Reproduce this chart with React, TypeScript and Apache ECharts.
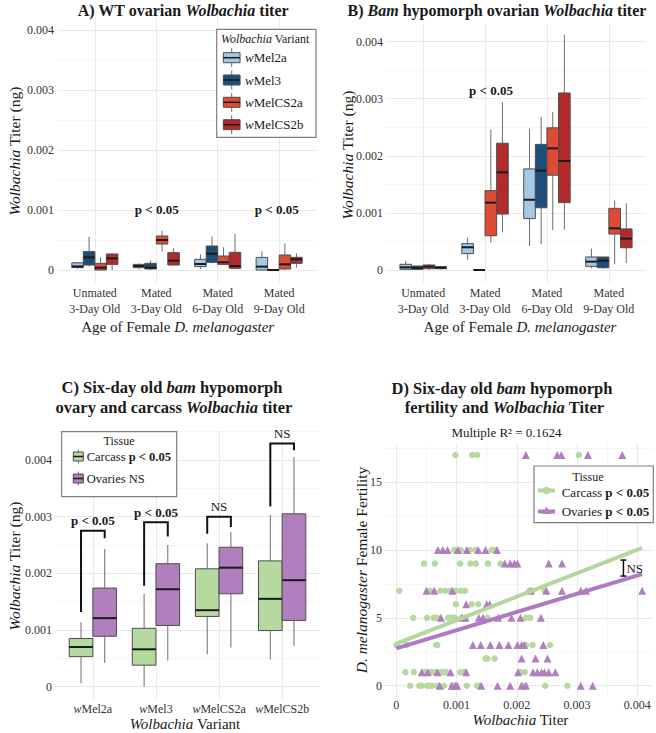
import React, { useEffect, useRef } from "react";
import * as echarts from "echarts";

// ---------- data ----------
const ageGroups = ["Unmated\n3-Day Old", "Mated\n3-Day Old", "Mated\n6-Day Old", "Mated\n9-Day Old"];
const variants = ["wMel2a", "wMel3", "wMelCS2a", "wMelCS2b"];
const variantColors = ["#a3c9e6", "#1d4e79", "#df4c36", "#b22a2c"];

// box stats per age group: [lower whisker, Q1, median, Q3, upper whisker] in ng
const wtMel2a = [
  [0.00002, 0.00004, 0.00006, 0.00012, 0.00013],
  [0.00001, 0.00004, 0.000067, 0.000094, 0.00011],
  [0.000017, 0.000056, 0.0001, 0.000178, 0.00026],
  [0, 0, 0.000056, 0.00021, 0.00031],
];
const wtMel3 = [
  [0.000056, 0.000083, 0.00021, 0.000306, 0.000556],
  [0, 0.000017, 0.000039, 0.000111, 0.000156],
  [0.000111, 0.000128, 0.000272, 0.0004, 0.000556],
  [0, 0, 0, 0, 0],
];
const wtMelCS2a = [
  [0, 0, 0.000039, 0.000111, 0.000211],
  [0.000306, 0.000433, 0.0005, 0.000567, 0.000656],
  [0.000083, 0.000094, 0.000128, 0.000233, 0.000378],
  [0, 0.000017, 0.000094, 0.00025, 0.000444],
];
const wtMelCS2b = [
  [0, 0.000094, 0.000194, 0.000267, 0.000278],
  [0.000072, 0.000083, 0.000156, 0.000289, 0.000361],
  [0.000017, 0.000028, 0.000067, 0.000294, 0.0006],
  [0.000039, 0.000111, 0.000178, 0.000211, 0.000278],
];

const bamMel2a = [
  [0, 0.000012, 0.000047, 0.0001, 0.000158],
  [0.000175, 0.000287, 0.000398, 0.000462, 0.000567],
  [0.00042, 0.0009, 0.00123, 0.00177, 0.00247],
  [0.00003, 0.000064, 0.000146, 0.000228, 0.000374],
];
const bamMel3 = [
  [0, 0.000012, 0.000035, 0.00007, 0.00008],
  [0, 0, 0, 0, 0],
  [0.00045, 0.00109, 0.00174, 0.0022, 0.00268],
  [0.000023, 0.00004, 0.000164, 0.000228, 0.000228],
];
const bamMelCS2a = [
  [0, 0.000023, 0.000058, 0.000088, 0.000105],
  [0.00048, 0.0006, 0.00118, 0.00139, 0.00246],
  [0.0007, 0.00166, 0.00213, 0.00249, 0.00277],
  [0.0001, 0.00063, 0.00073, 0.00108, 0.00122],
];
const bamMelCS2b = [
  [0.00001, 0.000023, 0.000041, 0.000058, 0.00006],
  [0.00066, 0.00098, 0.00171, 0.00222, 0.00294],
  [0.00071, 0.00118, 0.00191, 0.0031, 0.00412],
  [0.00012, 0.00039, 0.00055, 0.00072, 0.00117],
];

// six-day bam hypomorph tissues, per variant
const tissueColors = ["#b6d9a0", "#b07fbd"];
const carcassTiter = [
  [0.00006, 0.00053, 0.0007, 0.00085, 0.00114],
  [0, 0.00038, 0.00066, 0.00103, 0.00164],
  [0.00057, 0.00124, 0.00135, 0.00208, 0.00253],
  [0.00048, 0.00099, 0.00155, 0.00222, 0.00303],
];
const ovaryTiter = [
  [0.00042, 0.00089, 0.00121, 0.00174, 0.00243],
  [0.00046, 0.00108, 0.00172, 0.00217, 0.0025],
  [0.00069, 0.00164, 0.0021, 0.00246, 0.00273],
  [0.00072, 0.00117, 0.00188, 0.00305, 0.00405],
];
const bracketTop = [0.00275, 0.0029, 0.003, 0.00429];
const bracketLeftEnd = [0.00132, 0.00178, 0.0027, 0.00318];
const bracketRightEnd = [0.00262, 0.00265, 0.00282, 0.00417];
const bracketLabels = ["p < 0.05", "p < 0.05", "NS", "NS"];

// fertility (offspring count) vs titer, grouped by fertility value
const carcassRows: [number, number[]][] = [
  [17, [0.00098, 0.00126, 0.00134, 0.00303]],
  [10, [0.00096, 0.00107, 0.00122, 0.00131, 0.00158, 0.00163]],
  [9, [0.00046, 0.00064, 0.00106, 0.00123, 0.00132, 0.00152, 0.00173]],
  [7, [0.00005, 0.00056, 0.00073, 0.00081, 0.0009, 0.00099, 0.00107, 0.00114, 0.00221, 0.00226, 0.00246]],
  [6, [0.00099, 0.00125, 0.00136]],
  [5, [0.00028, 0.00051, 0.00062, 0.00068, 0.00086, 0.00091, 0.00097, 0.00108, 0.00151, 0.00215, 0.00222]],
  [3, [0.0, 0.00017, 0.00066, 0.00068, 0.00215, 0.00226, 0.00255]],
  [2, [0.00148, 0.00151, 0.00163]],
  [1, [0.00015, 0.00029, 0.00047, 0.00057, 0.00064, 0.00074, 0.00079, 0.00083, 0.00106, 0.00113, 0.00206, 0.00213]],
  [0, [0.00023, 0.00038, 0.00042, 0.00051, 0.00055, 0.00059, 0.00068, 0.00079, 0.00093, 0.00097, 0.00117, 0.00134, 0.00137, 0.00209, 0.00214, 0.00247, 0.00284]],
];
const ovaryRows: [number, number[]][] = [
  [17, [0.00215, 0.00267, 0.00274, 0.00318, 0.00375]],
  [10, [0.00069, 0.00077, 0.00085, 0.00102, 0.00117, 0.00136, 0.00148, 0.00167]],
  [9, [0.0018, 0.00189, 0.00196, 0.00201, 0.00253, 0.00275]],
  [7, [0.0005, 0.00063, 0.00093, 0.00223, 0.00249, 0.00275, 0.00306, 0.00315, 0.00408]],
  [6, [0.00116, 0.0015, 0.00155]],
  [5, [0.00074, 0.00109, 0.00115, 0.00137, 0.00144, 0.00169, 0.00191, 0.00206, 0.0024]],
  [3, [0.00127, 0.0014, 0.00156, 0.00171, 0.00186, 0.00201, 0.00208, 0.00212, 0.00244]],
  [2, [0.00208, 0.00231, 0.00251]],
  [1, [0.00042, 0.00052, 0.00068, 0.0009, 0.00116, 0.00202, 0.00227, 0.00234, 0.00241, 0.00246, 0.00253, 0.00264]],
  [0, [0.00072, 0.00092, 0.00098, 0.00101, 0.00141, 0.00168, 0.00189, 0.00208, 0.00215, 0.00306, 0.00326]],
];
const carcassFit = [[0, 3.1], [0.00408, 10.15]];
const ovaryFit = [[0, 2.75], [0.00408, 8.22]];
const fitGap = [0.00377, 8.08, 9.26];

// ---------- styling ----------
const FONT = "Liberation Serif, Times New Roman, serif";
const INK = "#1a1a1a";
const TICK = "#333333";
const GRID_MAJOR = "#e9e9e9";
const GRID_MINOR = "#f5f5f5";
const BOX_EDGE = "#4d4d4d";
const WHISKER = "#6e6e6e";

type Opt = { size?: number; bold?: boolean; align?: string; rotation?: number; color?: string; z?: number };
function txt(x: number, y: number, text: string, o: Opt = {}) {
  const size = o.size ?? 12;
  const weight = o.bold ? "bold" : "normal";
  const fill = o.color ?? INK;
  const base = { fontFamily: FONT, fontSize: size, fill };
  return {
    type: "text",
    x,
    y,
    rotation: o.rotation ?? 0,
    z: o.z ?? 50,
    silent: true,
    style: {
      text,
      ...base,
      fontWeight: weight,
      align: o.align ?? "center",
      textAlign: o.align ?? "center",
      verticalAlign: "middle",
      textVerticalAlign: "middle",
      rich: {
        i: { ...base, fontWeight: weight, fontStyle: "italic" },
        b: { ...base, fontWeight: "bold" },
        bi: { ...base, fontWeight: "bold", fontStyle: "italic" },
      },
    },
  };
}

function boxKey(cx: number, cy: number, w: number, h: number, stub: number, color: string) {
  return [
    { type: "line", z: 60, shape: { x1: cx, y1: cy - h / 2 - stub, x2: cx, y2: cy + h / 2 + stub }, style: { stroke: WHISKER, lineWidth: 1 } },
    { type: "rect", z: 61, shape: { x: cx - w / 2, y: cy - h / 2, width: w, height: h }, style: { fill: color, stroke: BOX_EDGE, lineWidth: 1 } },
    { type: "line", z: 62, shape: { x1: cx - w / 2, y1: cy, x2: cx + w / 2, y2: cy }, style: { stroke: INK, lineWidth: 1.5 } },
  ];
}

function titerLabel(v: number) {
  const k = v / 0.001;
  const r = Math.round(k);
  if (Math.abs(k - r) > 1e-6) return "";
  return r === 0 ? "0" : (r * 0.001).toFixed(3);
}

function valueAxis(gridIndex: number, min: number, max: number, step: number, major: boolean, label: any, position: string) {
  return {
    type: "value",
    gridIndex,
    position,
    min,
    max,
    minInterval: step,
    maxInterval: step,
    splitNumber: Math.max(1, Math.round((max - min) / step)),
    axisLine: { show: false },
    axisTick: { show: false },
    axisLabel: label ?? { show: false },
    splitLine: {
      show: true,
      showMinLine: false,
      showMaxLine: false,
      lineStyle: { color: major ? GRID_MAJOR : GRID_MINOR, width: 1 },
    },
  };
}

function boxSeries(name: string, data: number[][], color: string, idx: number, n: number, xAxisIndex: number, yAxisIndex: number) {
  return {
    type: "custom",
    name,
    xAxisIndex,
    yAxisIndex,
    data: data.map((d, i) => [i + 1, ...d]),
    encode: { x: 0, y: [1, 2, 3, 4, 5] },
    z: 5,
    renderItem: (_p: any, api: any) => {
      const xv = api.value(0);
      const lo = api.value(1), q1 = api.value(2), med = api.value(3), q3 = api.value(4), hi = api.value(5);
      const unit = api.size([1, 0])[0];
      const groupW = unit * 0.75;
      const w = groupW / n;
      const cx = api.coord([xv, med])[0] - groupW / 2 + w * (idx + 0.5);
      const py = (v: number) => api.coord([xv, v])[1];
      const top = py(q3);
      const bot = py(q1);
      return {
        type: "group",
        children: [
          { type: "line", shape: { x1: cx, y1: py(hi), x2: cx, y2: top }, style: { stroke: WHISKER, lineWidth: 1 } },
          { type: "line", shape: { x1: cx, y1: bot, x2: cx, y2: py(lo) }, style: { stroke: WHISKER, lineWidth: 1 } },
          { type: "rect", shape: { x: cx - w / 2, y: top, width: w, height: Math.max(bot - top, 0) }, style: { fill: color, stroke: BOX_EDGE, lineWidth: 1 } },
          { type: "line", shape: { x1: cx - w / 2, y1: py(med), x2: cx + w / 2, y2: py(med) }, style: { stroke: INK, lineWidth: 2 } },
        ],
      };
    },
  };
}

function categoryAxis(gridIndex: number, names: string[], margin: number, rich: boolean) {
  return {
    type: "value",
    gridIndex,
    position: "bottom",
    min: 0.4,
    max: 4.6,
    minInterval: 1,
    maxInterval: 1,
    splitNumber: 4,
    axisLine: { show: false },
    axisTick: { show: false },
    axisLabel: {
      margin,
      fontFamily: FONT,
      fontSize: 12,
      color: TICK,
      lineHeight: 16,
      formatter: (v: number) => {
        const i = Math.round(v);
        if (Math.abs(v - i) > 1e-6 || i < 1 || i > names.length) return "";
        return rich ? `{i|w}${names[i - 1].slice(1)}` : names[i - 1];
      },
      rich: { i: { fontFamily: FONT, fontSize: 12, color: TICK, fontStyle: "italic" } },
    },
    splitLine: { show: true, showMinLine: false, showMaxLine: false, lineStyle: { color: GRID_MAJOR, width: 1 } },
  };
}

function titerTicks(margin: number) {
  return { margin, fontFamily: FONT, fontSize: 12, color: TICK, formatter: titerLabel };
}

function buildOption() {
  const wtSets = [wtMel2a, wtMel3, wtMelCS2a, wtMelCS2b];
  const bamSets = [bamMel2a, bamMel3, bamMelCS2a, bamMelCS2b];

  const grid = [
    { left: 58, top: 17, width: 258, height: 265 },
    { left: 386, top: 24, width: 260, height: 258 },
    { left: 55, top: 431, width: 265, height: 268 },
    { left: 384, top: 443.5, width: 272, height: 253.7 },
  ];

  const xAxis = [
    categoryAxis(0, ageGroups, 3, false),
    categoryAxis(1, ageGroups, 3, false),
    categoryAxis(2, variants, 2, true),
    valueAxis(3, -0.000205, 0.004261, 0.0005, false, null, "top"),
    valueAxis(3, -0.000205, 0.004261, 0.001, true, {
      margin: 2, fontFamily: FONT, fontSize: 12, color: TICK, formatter: titerLabel,
    }, "bottom"),
  ];

  const yAxis = [
    valueAxis(0, -0.0002, 0.0042167, 0.0005, false, null, "right"),
    valueAxis(0, -0.0002, 0.0042167, 0.001, true, titerTicks(4), "left"),
    valueAxis(1, -0.00021, 0.004308, 0.0005, false, null, "right"),
    valueAxis(1, -0.00021, 0.004308, 0.001, true, titerTicks(3), "left"),
    valueAxis(2, -0.000217, 0.0045117, 0.0005, false, null, "right"),
    valueAxis(2, -0.000217, 0.0045117, 0.001, true, titerTicks(3), "left"),
    valueAxis(3, -0.847, 17.85, 2.5, false, null, "right"),
    valueAxis(3, -0.847, 17.85, 5, true, {
      margin: 2, fontFamily: FONT, fontSize: 12, color: TICK,
      formatter: (v: number) => (Math.abs(v / 5 - Math.round(v / 5)) < 1e-6 ? String(Math.round(v)) : ""),
    }, "left"),
  ];

  const series: any[] = [];
  variants.forEach((name, i) => series.push(boxSeries(name, wtSets[i], variantColors[i], i, 4, 0, 1)));
  variants.forEach((name, i) => series.push(boxSeries(name, bamSets[i], variantColors[i], i, 4, 1, 3)));
  series.push(boxSeries("Carcass", carcassTiter, tissueColors[0], 0, 2, 2, 5));
  series.push(boxSeries("Ovaries", ovaryTiter, tissueColors[1], 1, 2, 2, 5));

  // significance brackets between tissues
  series.push({
    type: "custom",
    xAxisIndex: 2,
    yAxisIndex: 5,
    z: 8,
    data: bracketTop.map((t, i) => [i + 1, t, bracketLeftEnd[i], bracketRightEnd[i]]),
    encode: { x: 0, y: [1, 2, 3] },
    renderItem: (p: any, api: any) => {
      const xv = api.value(0);
      const off = (api.size([1, 0])[0] * 0.75) / 4;
      const cx = api.coord([xv, 0])[0];
      const yT = api.coord([xv, api.value(1)])[1];
      const yL = api.coord([xv, api.value(2)])[1];
      const yR = api.coord([xv, api.value(3)])[1];
      return {
        type: "group",
        children: [
          {
            type: "polyline",
            shape: { points: [[cx - off, yL], [cx - off, yT], [cx + off, yT], [cx + off, yR]] },
            style: { stroke: "#111", lineWidth: 2, fill: "none" },
          },
          {
            type: "text",
            x: cx,
            y: yT - 10,
            style: {
              text: bracketLabels[p.dataIndex],
              fontFamily: FONT,
              fontSize: 13,
              fontWeight: bracketLabels[p.dataIndex] === "NS" ? "normal" : "bold",
              fill: INK,
              align: "center",
              textAlign: "center",
              verticalAlign: "middle",
              textVerticalAlign: "middle",
            },
          },
        ],
      };
    },
  });

  const toPoints = (rows: [number, number[]][]) =>
    rows.flatMap(([fert, titers]) => titers.map((t) => [t, fert]));

  series.push({
    type: "scatter",
    name: "Carcass",
    xAxisIndex: 4,
    yAxisIndex: 7,
    symbol: "circle",
    symbolSize: 6.5,
    itemStyle: { color: tissueColors[0], opacity: 1 },
    data: toPoints(carcassRows),
    z: 3,
  });
  series.push({
    type: "scatter",
    name: "Ovaries",
    xAxisIndex: 4,
    yAxisIndex: 7,
    symbol: "triangle",
    symbolSize: 8,
    itemStyle: { color: tissueColors[1], opacity: 1 },
    data: toPoints(ovaryRows),
    z: 3,
  });
  series.push({
    type: "line",
    xAxisIndex: 4,
    yAxisIndex: 7,
    data: carcassFit,
    symbol: "none",
    lineStyle: { color: "#b3d79c", width: 4 },
    z: 4,
    silent: true,
  });
  series.push({
    type: "line",
    xAxisIndex: 4,
    yAxisIndex: 7,
    data: ovaryFit,
    symbol: "none",
    lineStyle: { color: "#ad7bc1", width: 4 },
    z: 4,
    silent: true,
  });
  // gap between the two fitted lines
  series.push({
    type: "custom",
    xAxisIndex: 4,
    yAxisIndex: 7,
    z: 6,
    data: [fitGap],
    encode: { x: 0, y: [1, 2] },
    renderItem: (_p: any, api: any) => {
      const lo = api.coord([api.value(0), api.value(1)]);
      const hi = api.coord([api.value(0), api.value(2)]);
      const s = { stroke: "#111", lineWidth: 1.5 };
      return {
        type: "group",
        children: [
          { type: "line", shape: { x1: lo[0], y1: lo[1], x2: hi[0], y2: hi[1] }, style: s },
          { type: "line", shape: { x1: lo[0] - 3, y1: lo[1], x2: lo[0] + 3, y2: lo[1] }, style: s },
          { type: "line", shape: { x1: hi[0] - 3, y1: hi[1], x2: hi[0] + 3, y2: hi[1] }, style: s },
          {
            type: "text",
            x: lo[0] + 3,
            y: (lo[1] + hi[1]) / 2,
            style: {
              text: "NS", fontFamily: FONT, fontSize: 13, fill: INK,
              align: "left", textAlign: "left", verticalAlign: "middle", textVerticalAlign: "middle",
            },
          },
        ],
      };
    },
  });

  const graphic: any[] = [
    // titles
    txt(183, 10, "A) WT ovarian {bi|Wolbachia} titer", { size: 16, bold: true }),
    txt(497, 10, "B) {bi|Bam} hypomorph ovarian {bi|Wolbachia} titer", { size: 16, bold: true }),
    txt(172, 387.5, "C) Six-day old {bi|bam} hypomorph", { size: 16.5, bold: true }),
    txt(174, 407.5, "ovary and carcass {bi|Wolbachia} titer", { size: 16.5, bold: true }),
    txt(502, 388.5, "D) Six-day old {bi|bam} hypomorph", { size: 16.5, bold: true }),
    txt(504.5, 407.5, "fertility and {bi|Wolbachia} Titer", { size: 16.5, bold: true }),
    txt(506.5, 432, "Multiple R\u00b2 = 0.1624", { size: 13 }),
    // axis titles
    txt(177.7, 326.7, "Age of Female {i|D. melanogaster}", { size: 15 }),
    txt(520, 326.7, "Age of Female {i|D. melanogaster}", { size: 15 }),
    txt(14, 151, "{i|Wolbachia} Titer (ng)", { size: 15.5, rotation: Math.PI / 2 }),
    txt(347.5, 155, "{i|Wolbachia} Titer (ng)", { size: 15.5, rotation: Math.PI / 2 }),
    txt(185, 724, "{i|Wolbachia} Variant", { size: 15 }),
    txt(14, 566, "{i|Wolbachia} Titer (ng)", { size: 15.5, rotation: Math.PI / 2 }),
    txt(520.5, 720, "{i|Wolbachia} Titer", { size: 15 }),
    txt(361, 570, "{i|D. melanogaster} Female Fertility", { size: 15.5, rotation: Math.PI / 2 }),
    // p-value annotations
    txt(156.7, 209.3, "p < 0.05", { size: 13, bold: true }),
    txt(276.7, 209.3, "p < 0.05", { size: 13, bold: true }),
    txt(491, 90, "p < 0.05", { size: 13, bold: true }),
  ];

  // legend A
  graphic.push({
    type: "rect", z: 55, shape: { x: 216.7, y: 29.3, width: 99.3, height: 108 },
    style: { fill: "#fff", stroke: "#7f7f7f", lineWidth: 1.2 },
  });
  graphic.push(txt(221, 38.7, "{i|Wolbachia} Variant", { size: 12, align: "left", z: 60 }));
  [57.7, 80, 102.3, 124.7].forEach((cy, i) => {
    graphic.push(...boxKey(231.7, cy, 16.7, 10, 4.5, variantColors[i]));
    graphic.push(txt(245, cy, `{i|w}${variants[i].slice(1)}`, { size: 13, align: "left", z: 60 }));
  });

  // legend C
  graphic.push({
    type: "rect", z: 55, shape: { x: 61.7, y: 431.7, width: 115, height: 65 },
    style: { fill: "#fff", stroke: "#7f7f7f", lineWidth: 1.2 },
  });
  graphic.push(txt(119, 440.5, "Tissue", { size: 12, z: 60 }));
  graphic.push(...boxKey(78.3, 456.5, 10, 9, 2.5, tissueColors[0]));
  graphic.push(txt(86.7, 456.5, "Carcass {b|p < 0.05}", { size: 12.5, align: "left", z: 60 }));
  graphic.push(...boxKey(78.3, 478.5, 10, 9, 2.5, tissueColors[1]));
  graphic.push(txt(86.7, 478.5, "Ovaries NS", { size: 12.5, align: "left", z: 60 }));

  // legend D
  graphic.push({
    type: "rect", z: 55, shape: { x: 534, y: 466, width: 119.3, height: 56.7 },
    style: { fill: "#fff", stroke: "#7f7f7f", lineWidth: 1.2 },
  });
  graphic.push(txt(588, 476.5, "Tissue", { size: 12, z: 60 }));
  graphic.push({ type: "line", z: 60, shape: { x1: 538, y1: 490.5, x2: 555, y2: 490.5 }, style: { stroke: "#b3d79c", lineWidth: 4 } });
  graphic.push({ type: "circle", z: 61, shape: { cx: 546.5, cy: 490.5, r: 3.8 }, style: { fill: tissueColors[0] } });
  graphic.push(txt(561.7, 492, "Carcass {b|p < 0.05}", { size: 13, align: "left", z: 60 }));
  graphic.push({ type: "line", z: 60, shape: { x1: 538, y1: 511.5, x2: 555, y2: 511.5 }, style: { stroke: "#ad7bc1", lineWidth: 4 } });
  graphic.push({
    type: "polygon", z: 61, shape: { points: [[546.5, 506.5], [551, 514], [542, 514]] },
    style: { fill: tissueColors[1] },
  });
  graphic.push(txt(561.7, 511.5, "Ovaries {b|p < 0.05}", { size: 13, align: "left", z: 60 }));

  return {
    animation: false,
    backgroundColor: "#ffffff",
    textStyle: { fontFamily: FONT },
    grid,
    xAxis,
    yAxis,
    series,
    graphic,
  };
}

export default function App() {
  const ref = useRef<HTMLDivElement>(null);
  useEffect(() => {
    if (!ref.current) return;
    const chart = echarts.init(ref.current, null, { renderer: "svg" });
    chart.setOption(buildOption() as any);
    return () => chart.dispose();
  }, []);
  return (
    <div
      ref={ref}
      style={{ position: "absolute", left: 0, top: 0, width: 656, height: 733, background: "#fff" }}
    />
  );
}
